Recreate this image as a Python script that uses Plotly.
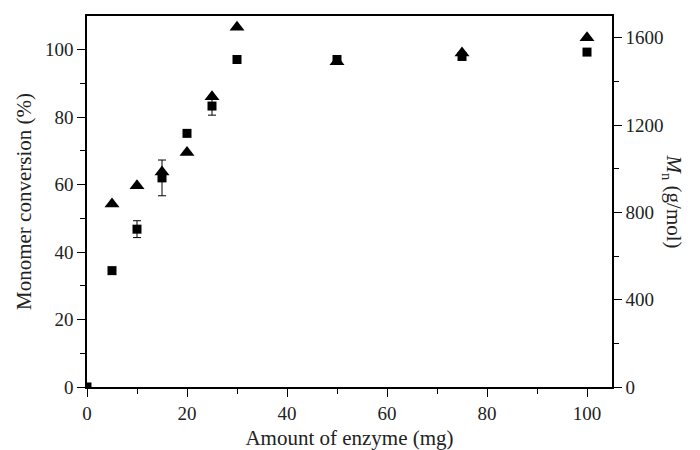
import plotly.graph_objects as go

enzyme_sq = [0, 5, 10, 15, 20, 25, 30, 50, 75, 100]
conversion = [0, 34.5, 46.8, 62.0, 75.2, 83.3, 97.1, 97.1, 98.0, 99.3]
conv_err = [0, 0, 2.5, 5.3, 0, 2.7, 0, 0, 0, 0]

enzyme_tri = [5, 10, 15, 20, 25, 30, 50, 75, 100]
mn = [838, 922, 985, 1075, 1330, 1648, 1490, 1530, 1600]

font = "Liberation Serif, Times New Roman, serif"

fig = go.Figure()
fig.add_trace(go.Scatter(
    x=enzyme_sq, y=conversion, mode="markers",
    marker=dict(symbol="square", size=9, color="black"),
    error_y=dict(type="data", array=conv_err, visible=True, color="black", thickness=1, width=4),
    yaxis="y", showlegend=False))
fig.add_trace(go.Scatter(
    x=enzyme_tri, y=mn, mode="markers",
    marker=dict(symbol="triangle-up", size=13, color="black"),
    yaxis="y2", showlegend=False))

axis_common = dict(showgrid=False, zeroline=False, showline=True, linecolor="black", linewidth=1.5,
                   ticks="outside", ticklen=8, tickwidth=1.2, tickcolor="black", automargin=False,
                   tickfont=dict(family=font, size=19, color="#222"))

fig.update_layout(
    width=700, height=450,
    margin=dict(l=87, r=88, t=16, b=63),
    plot_bgcolor="white", paper_bgcolor="white",
    font=dict(family=font, color="#222"),
    xaxis=dict(range=[0, 105], tickvals=[0, 20, 40, 60, 80, 100], mirror=True,
               minor=dict(tickvals=[10, 30, 50, 70, 90], ticks="outside", ticklen=5, tickcolor="black"),
               title=dict(text="Amount of enzyme (mg)", font=dict(family=font, size=21), standoff=8),
               **axis_common),
    yaxis=dict(range=[0, 110], tickvals=[0, 20, 40, 60, 80, 100],
               minor=dict(tickvals=[10, 30, 50, 70, 90], ticks="outside", ticklen=5, tickcolor="black"),
               title=dict(text="Monomer conversion (%)", font=dict(family=font, size=21), standoff=8),
               **axis_common),
    yaxis2=dict(range=[0, 1700], tickvals=[0, 400, 800, 1200, 1600], overlaying="y", side="right",
                minor=dict(tickvals=[200, 600, 1000, 1400], ticks="outside", ticklen=5, tickcolor="black"),
                **axis_common),
    annotations=[dict(text="<i>M</i><sub>n</sub> (g/mol)", textangle=90, xref="paper", yref="paper",
                      x=1.0, xshift=76, y=0.5, showarrow=False,
                      font=dict(family=font, size=21, color="#222"))],
)

fig.write_html("out.html")
